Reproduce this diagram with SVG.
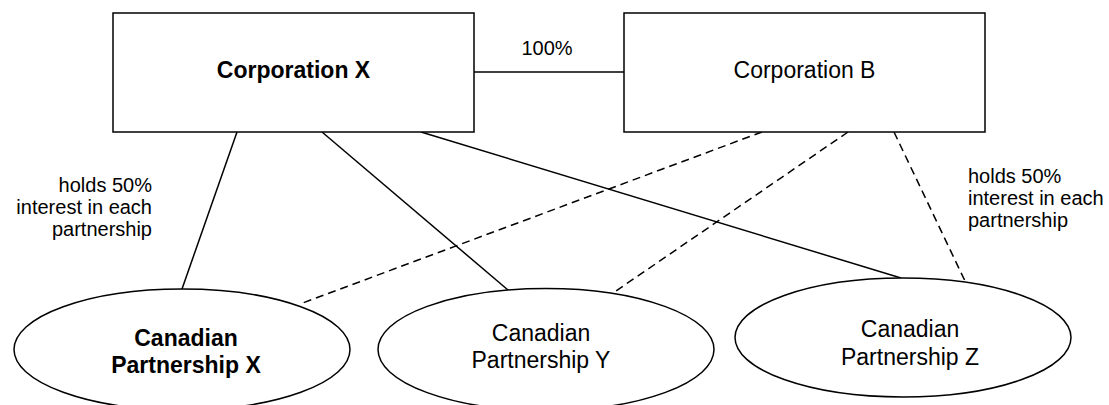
<svg xmlns="http://www.w3.org/2000/svg" width="1109" height="405" viewBox="0 0 1109 405">
<style>
.box{fill:#fff;stroke:#000;stroke-width:1.5}
.t{font-family:"Liberation Sans",Arial,sans-serif;font-size:20px;fill:#000}
.n{font-size:23px}
.b{font-weight:bold}
.c{text-anchor:middle}
.r{text-anchor:end}
.ln{stroke:#000;stroke-width:1.5;fill:none}
.d{stroke-dasharray:8,5}
</style>
<rect width="1109" height="405" fill="#fff"/>
<g id="connectors">
<line class="ln" x1="474" y1="72" x2="624" y2="72"/>
<line class="ln" x1="237" y1="132" x2="182" y2="289"/>
<line class="ln" x1="322" y1="132" x2="508" y2="290"/>
<line class="ln" x1="421" y1="132" x2="901" y2="278"/>
<line class="ln d" x1="762" y1="132" x2="300" y2="304"/>
<line class="ln d" x1="848" y1="132" x2="613" y2="293"/>
<line class="ln d" x1="894" y1="132" x2="965" y2="281"/>
<text class="t c" x="547" y="55">100%</text>
<text class="t r" x="152" y="192">holds 50%</text>
<text class="t r" x="152" y="214">interest in each</text>
<text class="t r" x="152" y="236">partnership</text>
<text class="t" x="968" y="183">holds 50%</text>
<text class="t" x="968" y="205">interest in each</text>
<text class="t" x="968" y="227">partnership</text>
</g>
<g id="corpX">
<rect class="box" x="113" y="13" width="361" height="119"/>
<text class="t n b c" x="293.5" y="78">Corporation X</text>
</g>
<g id="corpB">
<rect class="box" x="624" y="13" width="361" height="119"/>
<text class="t n c" x="804.5" y="78">Corporation B</text>
</g>
<g id="partnershipX">
<ellipse class="box" cx="182" cy="349.5" rx="168" ry="60.5"/>
<text class="t n b c" x="186" y="346">Canadian</text>
<text class="t n b c" x="186" y="373">Partnership X</text>
</g>
<g id="partnershipY">
<ellipse class="box" cx="546" cy="349.5" rx="168" ry="61"/>
<text class="t n c" x="541" y="341">Canadian</text>
<text class="t n c" x="541" y="368">Partnership Y</text>
</g>
<g id="partnershipZ">
<ellipse class="box" cx="903" cy="337.5" rx="168" ry="59.5"/>
<text class="t n c" x="910" y="337">Canadian</text>
<text class="t n c" x="910" y="365">Partnership Z</text>
</g>
</svg>
